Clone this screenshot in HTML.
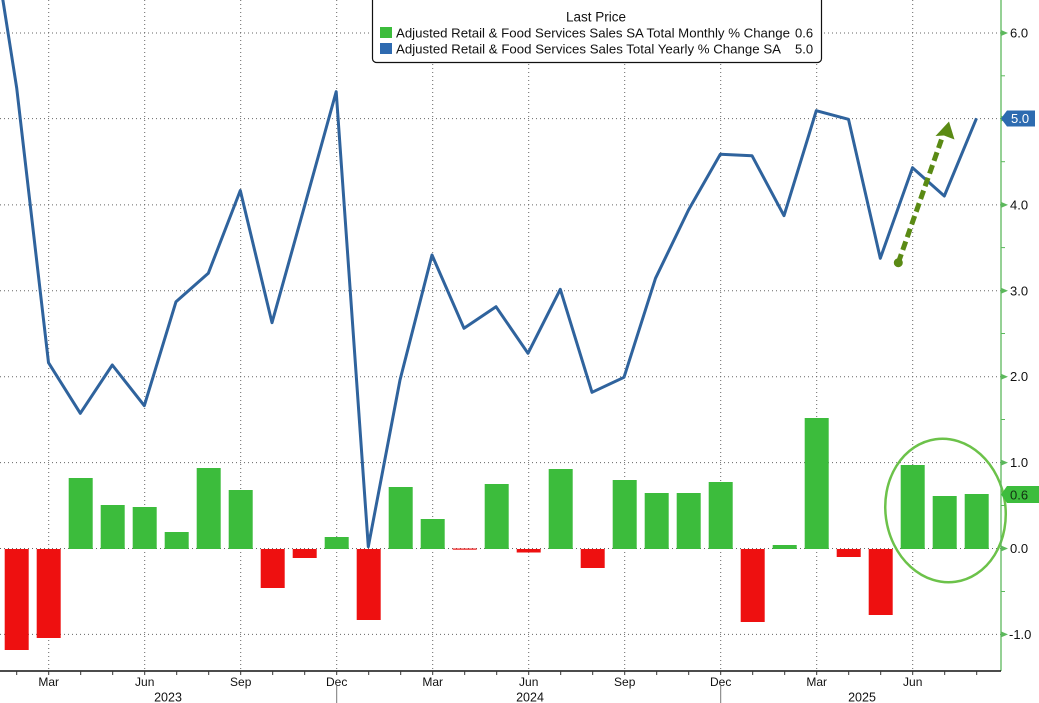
<!DOCTYPE html>
<html><head><meta charset="utf-8"><style>
html,body{margin:0;padding:0;background:#fff;}
svg{display:block;font-family:"Liberation Sans",sans-serif;}
</style></head><body>
<svg width="1039" height="703" viewBox="0 0 1039 703" xmlns="http://www.w3.org/2000/svg">
<rect width="1039" height="703" fill="#fff"/>
<!-- horizontal grid -->
<g stroke="#666" stroke-width="1" stroke-dasharray="1,3">
<line x1="0" y1="33" x2="1001" y2="33"/>
<line x1="0" y1="118.6" x2="1001" y2="118.6"/>
<line x1="0" y1="204.9" x2="1001" y2="204.9"/>
<line x1="0" y1="290.8" x2="1001" y2="290.8"/>
<line x1="0" y1="376.7" x2="1001" y2="376.7"/>
<line x1="0" y1="462.6" x2="1001" y2="462.6"/>
<line x1="0" y1="548.5" x2="1001" y2="548.5"/>
<line x1="0" y1="634.4" x2="1001" y2="634.4"/>
</g>
<!-- vertical grid -->
<g stroke="#666" stroke-width="1" stroke-dasharray="1,3">
<line x1="48.7" y1="0" x2="48.7" y2="671"/>
<line x1="144.7" y1="0" x2="144.7" y2="671"/>
<line x1="240.7" y1="0" x2="240.7" y2="671"/>
<line x1="336.7" y1="0" x2="336.7" y2="671"/>
<line x1="432.7" y1="0" x2="432.7" y2="671"/>
<line x1="528.7" y1="0" x2="528.7" y2="671"/>
<line x1="624.7" y1="0" x2="624.7" y2="671"/>
<line x1="720.7" y1="0" x2="720.7" y2="671"/>
<line x1="816.7" y1="0" x2="816.7" y2="671"/>
<line x1="912.7" y1="0" x2="912.7" y2="671"/>
</g>
<!-- bars -->
<g fill="#3cbc3c">
<rect x="68.7" y="478" width="24" height="71"/>
<rect x="100.7" y="505" width="24" height="44"/>
<rect x="132.7" y="507" width="24" height="42"/>
<rect x="164.7" y="532" width="24" height="17"/>
<rect x="196.7" y="468" width="24" height="81"/>
<rect x="228.7" y="490" width="24" height="59"/>
<rect x="324.7" y="537" width="24" height="12"/>
<rect x="388.7" y="487" width="24" height="62"/>
<rect x="420.7" y="519" width="24" height="30"/>
<rect x="484.7" y="484" width="24" height="65"/>
<rect x="548.7" y="469" width="24" height="80"/>
<rect x="612.7" y="480" width="24" height="69"/>
<rect x="644.7" y="493" width="24" height="56"/>
<rect x="676.7" y="493" width="24" height="56"/>
<rect x="708.7" y="482" width="24" height="67"/>
<rect x="772.7" y="545" width="24" height="4"/>
<rect x="804.7" y="418" width="24" height="131"/>
<rect x="900.7" y="465" width="24" height="84"/>
<rect x="932.7" y="496" width="24" height="53"/>
<rect x="964.7" y="494" width="24" height="55"/>
</g>
<g fill="#ee1010">
<rect x="4.7" y="549" width="24" height="101"/>
<rect x="36.7" y="549" width="24" height="89"/>
<rect x="260.7" y="549" width="24" height="39"/>
<rect x="292.7" y="549" width="24" height="9"/>
<rect x="356.7" y="549" width="24" height="71"/>
<rect x="452.7" y="548.5" width="24" height="1.2"/>
<rect x="516.7" y="549" width="24" height="3.5"/>
<rect x="580.7" y="549" width="24" height="19"/>
<rect x="740.7" y="549" width="24" height="73"/>
<rect x="836.7" y="549" width="24" height="8"/>
<rect x="868.7" y="549" width="24" height="66"/>
</g>
<!-- line -->
<polyline fill="none" stroke="#2f639d" stroke-width="3" stroke-linejoin="round" points="1,-12 16.7,88 48.5,362.7 80.3,413.3 112.3,365 144.3,405.7 176,301.7 208.3,273.3 240.3,190.5 272,322.7 304,208 336.2,91.7 368.3,546.7 400,380 432,255 464,328.3 496,306.7 528,353.3 560.3,289.3 592,392.3 624,377.3 655.5,278.3 688.5,210 720.3,154.3 752,155.7 784,215.7 816.3,110.7 848.5,119.3 880.3,258.3 912.5,167.7 944.3,196 976.5,118.3"/>
<!-- arrow annotation -->
<line x1="898.3" y1="262.7" x2="942" y2="138" stroke="#5a8a14" stroke-width="5" stroke-dasharray="9,4.5"/>
<circle cx="898.3" cy="262.7" r="4.5" fill="#5a8a14"/>
<polygon points="949,121.5 935.5,136 944,135.5 954.5,139.5" fill="#5a8a14"/>
<!-- ellipse -->
<ellipse cx="945.5" cy="510.5" rx="60" ry="72" fill="none" stroke="#6cc24a" stroke-width="2.5" transform="rotate(-8 945.5 510.5)"/>
<!-- legend -->
<rect x="372.5" y="-6" width="449" height="68.5" rx="4" fill="#fff" stroke="#111" stroke-width="1.2"/>
<text x="596" y="21.5" font-size="13.5" text-anchor="middle" fill="#111">Last Price</text>
<rect x="380" y="27" width="12" height="11" fill="#3cbc3c"/>
<rect x="380" y="43" width="12" height="11" fill="#2e6ab0"/>
<text x="396" y="37.5" font-size="13" fill="#111" textLength="394" lengthAdjust="spacingAndGlyphs">Adjusted Retail &amp; Food Services Sales SA Total Monthly % Change</text>
<text x="795" y="37.5" font-size="13" fill="#111">0.6</text>
<text x="396" y="53.5" font-size="13" fill="#111" textLength="385" lengthAdjust="spacingAndGlyphs">Adjusted Retail &amp; Food Services Sales Total Yearly % Change SA</text>
<text x="795" y="53.5" font-size="13" fill="#111">5.0</text>
<!-- right axis -->
<line x1="1001" y1="0" x2="1001" y2="671" stroke="#5cb85c" stroke-width="1.3"/>
<g fill="#5cb85c">
<polygon points="1001,30 1008,33 1001,36"/>
<polygon points="1001,115.6 1008,118.6 1001,121.6"/>
<polygon points="1001,201.9 1008,204.9 1001,207.9"/>
<polygon points="1001,287.8 1008,290.8 1001,293.8"/>
<polygon points="1001,373.7 1008,376.7 1001,379.7"/>
<polygon points="1001,459.6 1008,462.6 1001,465.6"/>
<polygon points="1001,545.5 1008,548.5 1001,551.5"/>
<polygon points="1001,631.4 1008,634.4 1001,637.4"/>
</g>
<g stroke="#5cb85c" stroke-width="1">
<line x1="1001" y1="75.8" x2="1005" y2="75.8"/>
<line x1="1001" y1="161.7" x2="1005" y2="161.7"/>
<line x1="1001" y1="247.6" x2="1005" y2="247.6"/>
<line x1="1001" y1="333.5" x2="1005" y2="333.5"/>
<line x1="1001" y1="419.5" x2="1005" y2="419.5"/>
<line x1="1001" y1="505.5" x2="1005" y2="505.5"/>
<line x1="1001" y1="591.5" x2="1005" y2="591.5"/>
</g>
<g font-size="13" fill="#111">
<text x="1010" y="37.5">6.0</text>
<text x="1010" y="209.4">4.0</text>
<text x="1010" y="295.3">3.0</text>
<text x="1010" y="381.2">2.0</text>
<text x="1010" y="467.1">1.0</text>
<text x="1010" y="553">0.0</text>
<text x="1009" y="638.9">-1.0</text>
</g>
<polygon points="1001,118.5 1007,110.5 1035,110.5 1035,126.5 1007,126.5" fill="#2d6bb0"/>
<text x="1011" y="123" font-size="13" fill="#fff">5.0</text>
<polygon points="1001,494.5 1007,486 1039,486 1039,503 1007,503" fill="#3dbd3d"/>
<text x="1010" y="499.5" font-size="13" fill="#123012">0.6</text>
<!-- bottom axis -->
<line x1="0" y1="671" x2="1001" y2="671" stroke="#111" stroke-width="1.5"/>
<g stroke="#333" stroke-width="1">
<line x1="16.7" y1="671" x2="16.7" y2="675"/>
<line x1="48.7" y1="671" x2="48.7" y2="675"/>
<line x1="80.7" y1="671" x2="80.7" y2="675"/>
<line x1="112.7" y1="671" x2="112.7" y2="675"/>
<line x1="144.7" y1="671" x2="144.7" y2="675"/>
<line x1="176.7" y1="671" x2="176.7" y2="675"/>
<line x1="208.7" y1="671" x2="208.7" y2="675"/>
<line x1="240.7" y1="671" x2="240.7" y2="675"/>
<line x1="272.7" y1="671" x2="272.7" y2="675"/>
<line x1="304.7" y1="671" x2="304.7" y2="675"/>
<line x1="336.7" y1="671" x2="336.7" y2="675"/>
<line x1="368.7" y1="671" x2="368.7" y2="675"/>
<line x1="400.7" y1="671" x2="400.7" y2="675"/>
<line x1="432.7" y1="671" x2="432.7" y2="675"/>
<line x1="464.7" y1="671" x2="464.7" y2="675"/>
<line x1="496.7" y1="671" x2="496.7" y2="675"/>
<line x1="528.7" y1="671" x2="528.7" y2="675"/>
<line x1="560.7" y1="671" x2="560.7" y2="675"/>
<line x1="592.7" y1="671" x2="592.7" y2="675"/>
<line x1="624.7" y1="671" x2="624.7" y2="675"/>
<line x1="656.7" y1="671" x2="656.7" y2="675"/>
<line x1="688.7" y1="671" x2="688.7" y2="675"/>
<line x1="720.7" y1="671" x2="720.7" y2="675"/>
<line x1="752.7" y1="671" x2="752.7" y2="675"/>
<line x1="784.7" y1="671" x2="784.7" y2="675"/>
<line x1="816.7" y1="671" x2="816.7" y2="675"/>
<line x1="848.7" y1="671" x2="848.7" y2="675"/>
<line x1="880.7" y1="671" x2="880.7" y2="675"/>
<line x1="912.7" y1="671" x2="912.7" y2="675"/>
<line x1="944.7" y1="671" x2="944.7" y2="675"/>
<line x1="976.7" y1="671" x2="976.7" y2="675"/>
<line x1="336.7" y1="686" x2="336.7" y2="703" stroke="#777"/>
<line x1="720.7" y1="686" x2="720.7" y2="703" stroke="#777"/>
</g>
<g font-size="12" fill="#111" text-anchor="middle">
<text x="48.7" y="686">Mar</text>
<text x="144.7" y="686">Jun</text>
<text x="240.7" y="686">Sep</text>
<text x="336.7" y="686">Dec</text>
<text x="432.7" y="686">Mar</text>
<text x="528.7" y="686">Jun</text>
<text x="624.7" y="686">Sep</text>
<text x="720.7" y="686">Dec</text>
<text x="816.7" y="686">Mar</text>
<text x="912.7" y="686">Jun</text>
<text x="168" y="701.5" font-size="12.5">2023</text>
<text x="530" y="701.5" font-size="12.5">2024</text>
<text x="862" y="701.5" font-size="12.5">2025</text>
</g>
</svg>
</body></html>
